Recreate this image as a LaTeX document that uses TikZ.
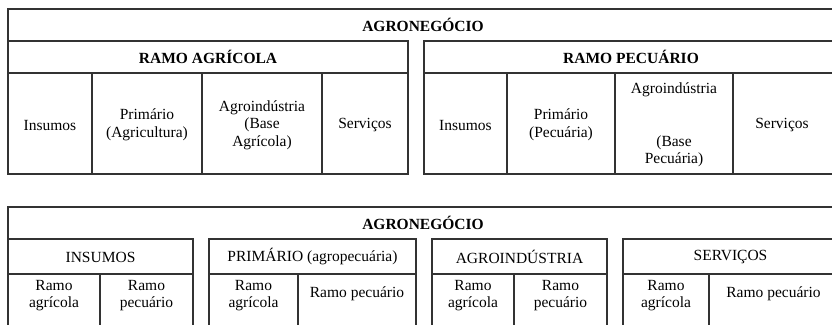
\documentclass[tikz,border=0pt]{standalone}
\usepackage{fontspec}
\setmainfont{Liberation Serif}
\begin{document}
\begin{tikzpicture}[x=1pt,y=-1pt,
  grid/.style={draw=black!80, line width=1.3pt, line cap=rect},
  txt/.style={align=center, inner sep=0pt, text=black,
    font=\fontsize{15.5}{17.5}\selectfont},
  hd/.style={txt, font=\fontsize{15.5}{17.5}\selectfont\bfseries}]
\useasboundingbox (0,0) rectangle (832,324);
\clip (0,0) rectangle (832,324);
% ---------- top table ----------
\draw[grid] (8,41) -- (8,9) -- (838,9) -- (838,41);
\node[hd] (agroA) at (423,25) {AGRONEGÓCIO};
% ramo agricola
\draw[grid] (8,41) rectangle (408,174);
\draw[grid] (8,73) -- (408,73);
\foreach \x in {92,202,322} \draw[grid] (\x,73) -- (\x,174);
\node[hd] (ramoAg) at (208,57) {RAMO AGRÍCOLA};
\node[txt] (insAg) at (50,125) {Insumos};
\node[txt] (priAg) at (147,125) {Primário\\(Agricultura)};
\node[txt] (indAg) at (262,125) {Agroindústria\\(Base\\Agrícola)};
\node[txt] (serAg) at (365,125) {Serviços};
% ramo pecuario
\draw[grid] (424,41) rectangle (838,174);
\draw[grid] (424,73) -- (838,73);
\foreach \x in {507,615,733} \draw[grid] (\x,73) -- (\x,174);
\node[hd] (ramoPe) at (631,57) {RAMO PECUÁRIO};
\node[txt] (insPe) at (465.5,125) {Insumos};
\node[txt] (priPe) at (561,125) {Primário\\(Pecuária)};
\node[txt] (indPe) at (674,125) {Agroindústria\\[17.5pt]\\(Base\\Pecuária)};
\node[txt] (serPe) at (782,125) {Serviços};
% ---------- bottom table ----------
\draw[grid] (8,239) -- (8,207) -- (838,207) -- (838,239);
\node[hd] (agroB) at (423,223) {AGRONEGÓCIO};
\foreach \a/\m/\b in {8/100/193, 209/298/416, 432/514/607, 623/709/838}{
  \draw[grid] (\a,239) rectangle (\b,340);
  \draw[grid] (\a,274) -- (\b,274);
  \draw[grid] (\m,274) -- (\m,340);
}
\node[txt] (hIns) at (100.5,257) {INSUMOS};
\node[txt] (hPri) at (312.5,257) {PRIMÁRIO (agropecuária)};
\node[txt] (hInd) at (519.5,257) {AGROINDÚSTRIA};
\node[txt] (hSer) at (730.5,257) {SERVIÇOS};
\node[txt] (insA) at (54,295.5) {Ramo\\agrícola};
\node[txt] (insP) at (146.5,295.5) {Ramo\\pecuário};
\node[txt] (priA) at (253.5,295.5) {Ramo\\agrícola};
\node[txt] (priP) at (357,294) {Ramo pecuário};
\node[txt] (indA) at (473,295.5) {Ramo\\agrícola};
\node[txt] (indP) at (560.5,295.5) {Ramo\\pecuário};
\node[txt] (serA) at (666,295.5) {Ramo\\agrícola};
\node[txt] (serP) at (773.5,294) {Ramo pecuário};
\end{tikzpicture}
\end{document}
